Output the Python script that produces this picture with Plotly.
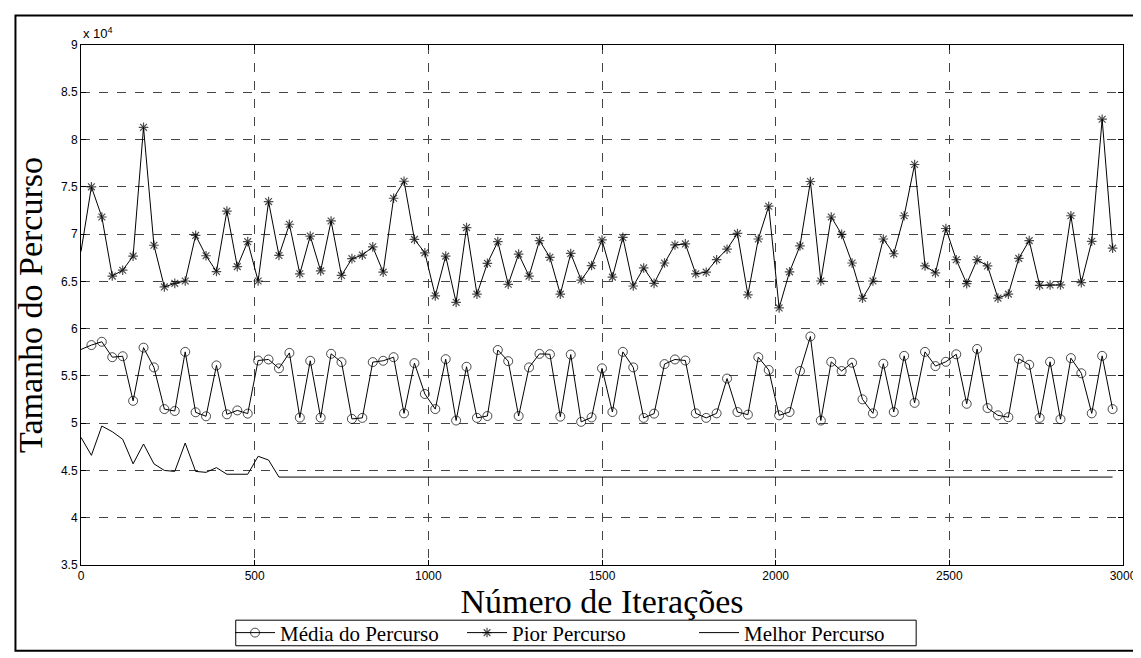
import plotly.graph_objects as go

iteracoes = list(range(0, 3000, 30))

media = [57800, 58260, 58610, 56980, 57080, 52360, 57990, 55900, 51490, 51290,
         57540, 51150, 50730, 56110, 50940, 51350, 51010, 56630, 56740, 55800,
         57430, 50590, 56600, 50590, 57340, 56460, 50450, 50560, 56460, 56600,
         56980, 51040, 56350, 53090, 51490, 56770, 50280, 55970, 50560, 50760,
         57740, 56560, 50760, 55900, 57330, 57290, 50690, 57260, 50140, 50610,
         55800, 51180, 57540, 55900, 50560, 51010, 56250, 56740, 56630, 51040,
         50560, 51040, 54720, 51180, 50900, 56980, 55630, 50830, 51180, 55520,
         59170, 50280, 56490, 55520, 56390, 52520, 51040, 56290, 51180, 57120,
         52150, 57540, 56040, 56490, 57290, 52050, 57850, 51600, 50830, 50630,
         56810, 56180, 50560, 56490, 50420, 56880, 55280, 51040, 57120, 51490]

pior = [68160, 75000, 71810, 65560, 66180, 67670, 81290, 68820, 64410, 64790,
        65040, 69860, 67710, 66040, 72430, 66560, 69200, 65040, 73440, 67740,
        71040, 65800, 69790, 66110, 71390, 65630, 67400, 67780, 68650, 65970,
        73790, 75590, 69440, 68020, 63470, 67670, 62780, 70690, 63650, 66910,
        69200, 64690, 67880, 65560, 69310, 67540, 63650, 67950, 65140, 66670,
        69380, 65450, 69650, 64510, 66420, 64790, 66940, 68850, 68960, 65800,
        65970, 67290, 68400, 70070, 63580, 69480, 72950, 62190, 66010, 68750,
        75560, 65040, 71810, 69970, 66940, 63210, 65040, 69480, 67920, 71940,
        77360, 66630, 65900, 70590, 67290, 64760, 67290, 66630, 63230, 63650,
        67430, 69310, 64580, 64620, 64620, 71940, 64860, 69240, 82150, 68510]

melhor = [48500, 46600, 49700, 49100, 48300, 45700, 47800, 45700, 45000, 44900,
          47900, 44900, 44800, 45300, 44600, 44600, 44600, 46500, 46100, 44300] + [44300] * 80

y_tick_vals = [35000, 40000, 45000, 50000, 55000, 60000, 65000, 70000, 75000, 80000, 85000, 90000]
y_tick_text = ["3.5", "4", "4.5", "5", "5.5", "6", "6.5", "7", "7.5", "8", "8.5", "9"]
x_tick_vals = [0, 500, 1000, 1500, 2000, 2500, 3000]

circ_sizes = [0] + [9] * (len(media) - 1)
star_sizes = [0] + [8] * (len(pior) - 1)

fig = go.Figure()
fig.add_trace(go.Scatter(
    x=iteracoes, y=media, name="Média do Percurso", mode="lines+markers",
    line=dict(color="black", width=1),
    marker=dict(symbol="circle-open", size=circ_sizes, color="black", line=dict(width=1, color="black"))))
fig.add_trace(go.Scatter(
    x=iteracoes, y=pior, name="Pior Percurso", mode="lines+markers",
    line=dict(color="black", width=1),
    marker=dict(symbol="asterisk-open", size=star_sizes, color="black", line=dict(width=1.2, color="black"))))
fig.add_trace(go.Scatter(
    x=iteracoes, y=melhor, name="Melhor Percurso", mode="lines",
    line=dict(color="black", width=1)))

axis_common = dict(
    showline=True, linecolor="black", linewidth=1, mirror="allticks",
    ticks="inside", ticklen=5, tickcolor="black",
    showgrid=True, gridcolor="#444", gridwidth=1, griddash="dash",
    zeroline=False, tickfont=dict(family="Liberation Sans, Arial", size=12, color="black"),
)

fig.update_xaxes(range=[0, 3000], tickvals=x_tick_vals,
                 title=dict(text="Número de Iterações", standoff=0,
                            font=dict(family="Liberation Serif, Times New Roman", size=34, color="black")),
                 **axis_common)
fig.update_yaxes(range=[35000, 90000], tickvals=y_tick_vals, ticktext=y_tick_text,
                 title=dict(text="Tamanho do Percurso", standoff=8,
                            font=dict(family="Liberation Serif, Times New Roman", size=34, color="black")),
                 **axis_common)

fig.add_annotation(text="x 10<sup>4</sup>", xref="paper", yref="paper", x=0, y=1,
                   xanchor="left", yanchor="bottom", yshift=2, showarrow=False,
                   font=dict(family="Liberation Sans, Arial", size=13, color="black"))

# outer figure frame
fig.add_shape(type="rect", xref="paper", yref="paper",
              x0=-0.0629, x1=1.0143, y0=-0.1648, y1=1.0568,
              line=dict(color="black", width=2), fillcolor="rgba(0,0,0,0)", layer="below")
# legend box
fig.add_shape(type="rect", xref="paper", yref="paper",
              x0=0.1485, x1=0.8015, y0=-0.1553, y1=-0.1061,
              line=dict(color="black", width=1), fillcolor="white", layer="below")

fig.update_layout(
    width=1141, height=658,
    margin=dict(l=73, r=18, t=37, b=93),
    paper_bgcolor="white", plot_bgcolor="white",
    showlegend=True,
    legend=dict(orientation="h", x=0.477, xanchor="center", y=-0.1307, yanchor="middle",
                borderwidth=0, bgcolor="rgba(0,0,0,0)",
                font=dict(family="Liberation Serif, Times New Roman", size=21, color="black"),
                itemwidth=40, entrywidth=177, entrywidthmode="pixels"),
)

fig.write_html("out.html")
